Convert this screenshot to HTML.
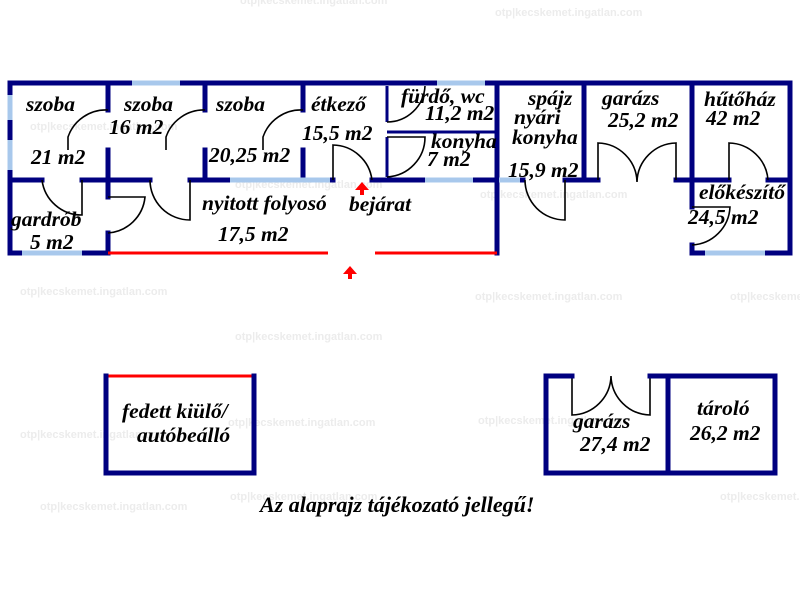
<!DOCTYPE html>
<html><head><meta charset="utf-8"><style>
html,body{margin:0;padding:0;background:#fff;}
svg{display:block;}
text{font-family:"Liberation Serif",serif;font-style:italic;font-weight:bold;fill:#000;}
.wm text{font-family:"Liberation Sans",sans-serif;font-style:normal;font-weight:bold;fill:#ececec;font-size:11px;}
</style></head><body>
<svg width="800" height="600" viewBox="0 0 800 600" xmlns="http://www.w3.org/2000/svg">
<g class="wm">
<text x="240" y="4">otp|kecskemet.ingatlan.com</text>
<text x="495" y="16">otp|kecskemet.ingatlan.com</text>
<text x="30" y="130">otp|kecskemet.ingatlan.com</text>
<text x="235" y="188">otp|kecskemet.ingatlan.com</text>
<text x="480" y="198">otp|kecskemet.ingatlan.com</text>
<text x="20" y="295">otp|kecskemet.ingatlan.com</text>
<text x="475" y="300">otp|kecskemet.ingatlan.com</text>
<text x="235" y="340">otp|kecskemet.ingatlan.com</text>
<text x="730" y="300">otp|kecskemet.ingatlan.com</text>
<text x="20" y="438">otp|kecskemet.ingatlan.com</text>
<text x="228" y="426">otp|kecskemet.ingatlan.com</text>
<text x="478" y="424">otp|kecskemet.ingatlan.com</text>
<text x="40" y="510">otp|kecskemet.ingatlan.com</text>
<text x="230" y="500">otp|kecskemet.ingatlan.com</text>
<text x="720" y="500">otp|kecskemet.ingatlan.com</text>
</g>
<g stroke="#000080" stroke-width="5" fill="none" stroke-linecap="square">
<path d="M10 83 H790 V253"/>
<path d="M10 83 V253 H108"/>
<path d="M108 83 V110 M108 150 V197 M108 233 V253"/>
<path d="M205 83 V110 M205 150 V180"/>
<path d="M303 83 V110 M303 150 V180"/>
<path d="M497 83 V253"/>
<path d="M584 83 V180"/>
<path d="M692 83 V207 M692 245 V253 H790"/>
<path d="M10 180 H42 M82 180 H150 M190 180 H333 M372 180 H523 M565 180 H598 M676 180 H729 M768 180 H790"/>
</g>
<g stroke="#a8c8ec" stroke-width="5">
<path d="M132 83 H180 M437 83 H485"/>
<path d="M10 95 V120 M10 140 V170"/>
<path d="M22 253 H82 M705 253 H765"/>
<path d="M230 180 H330 M425 180 H473 M499 180 H520"/>
</g>
<g stroke="#000080" stroke-width="3" fill="none">
<path d="M387 132 H497 M387 122 V86 M387 137 V177"/>
</g>
<g stroke="#ff0000" stroke-width="3">
<path d="M108 253 H328 M375 253 H497"/>
<path d="M106 376 H254"/>
</g>
<g stroke="#000" stroke-width="1.6" fill="none">
<path d="M68 150 V137 A40 40 0 0 1 108 110"/>
<path d="M166 150 V137 A40 40 0 0 1 205 110"/>
<path d="M263 150 V137 A40 40 0 0 1 303 110"/>
<path d="M42 180 A40 40 0 0 0 82 215 V180"/>
<path d="M108 197 H145 A40 40 0 0 1 108 233"/>
<path d="M150 180 A40 40 0 0 0 190 220 V180"/>
<path d="M333 180 V145 A40 40 0 0 1 372 180"/>
<path d="M387 122 A38 38 0 0 0 425 86"/>
<path d="M387 137 H425 A40 40 0 0 1 387 177"/>
<path d="M525 180 A40 40 0 0 0 565 220 V180"/>
<path d="M598 180 V143 A40 40 0 0 1 637 182 A40 40 0 0 1 676 143 V180"/>
<path d="M729 180 V143 A40 40 0 0 1 768 180"/>
<path d="M692 207 H730 A40 40 0 0 1 692 245"/>
<path d="M572 376 V415 A40 40 0 0 0 611 376 A40 40 0 0 0 650 415 V376"/>
</g>
<g stroke="#000080" stroke-width="5" fill="none" stroke-linecap="square">
<path d="M106 376 V473 H254 V376"/>
<path d="M572 376 H546 V473 H775 V376 H650 M668 376 V473"/>
</g>
<g fill="#ff0000">
<path d="M355 190 L362 182 L369 190 Z"/><rect x="360" y="189" width="4" height="6"/>
<path d="M343 274 L350 266 L357 274 Z"/><rect x="348" y="273" width="4" height="6"/>
</g>
<g font-size="21.5">
<text x="26" y="111">szoba</text>
<text x="31" y="164">21 m2</text>
<text x="124" y="111">szoba</text>
<text x="109" y="134">16 m2</text>
<text x="216" y="111">szoba</text>
<text x="209" y="162">20,25 m2</text>
<text x="311" y="111">étkező</text>
<text x="302" y="140">15,5 m2</text>
<text x="401" y="103">fürdő, wc</text>
<text x="425" y="120">11,2 m2</text>
<text x="431" y="148">konyha</text>
<text x="427" y="166">7 m2</text>
<text x="528" y="105">spájz</text>
<text x="514" y="124">nyári</text>
<text x="512" y="144">konyha</text>
<text x="508" y="177">15,9 m2</text>
<text x="602" y="105">garázs</text>
<text x="608" y="127">25,2 m2</text>
<text x="704" y="106">hűtőház</text>
<text x="706" y="125">42 m2</text>
<text x="699" y="199">előkészítő</text>
<text x="688" y="224">24,5 m2</text>
<text x="11" y="226">gardrób</text>
<text x="30" y="249">5 m2</text>
<text x="202" y="210">nyitott folyosó</text>
<text x="218" y="241">17,5 m2</text>
<text x="349" y="211">bejárat</text>
<text x="122" y="418">fedett kiülő/</text>
<text x="137" y="442">autóbeálló</text>
<text x="573" y="428">garázs</text>
<text x="580" y="451">27,4 m2</text>
<text x="697" y="415">tároló</text>
<text x="690" y="440">26,2 m2</text>
</g>
<text x="260" y="512" font-size="22">Az alaprajz tájékozató jellegű!</text>
</svg>
</body></html>
